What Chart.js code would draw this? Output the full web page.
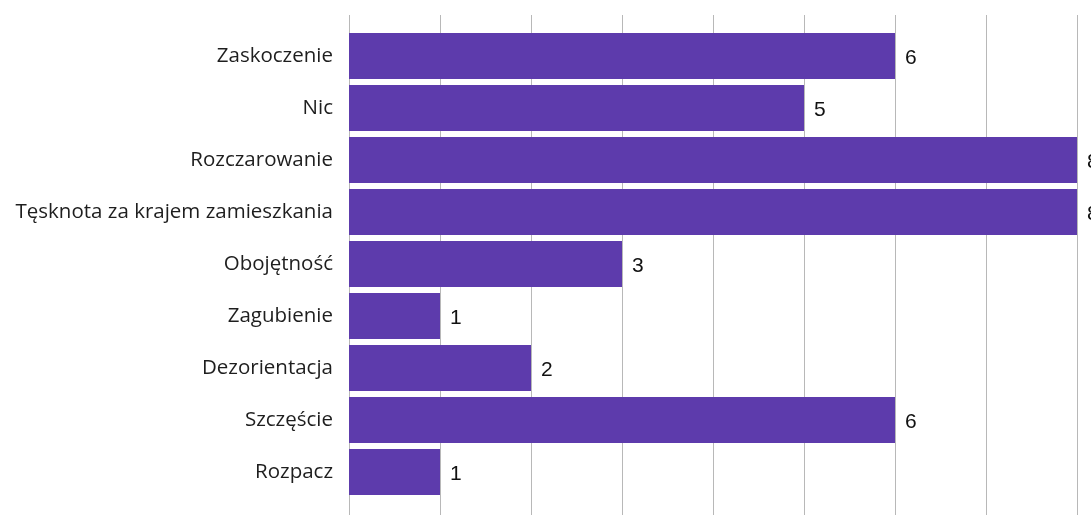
<!DOCTYPE html>
<html>
<head>
<meta charset="utf-8">
<script src="https://cdn.jsdelivr.net/npm/chart.js@4"></script>
<style>
  html, body { margin: 0; padding: 0; background: #fff; overflow: hidden; }
  #wrap { width: 1120px; height: 515px; }
</style>
</head>
<body>
<div id="wrap"><canvas id="myChart" width="1120" height="515"></canvas></div>
<script>
const categories = [
  "Zaskoczenie",
  "Nic",
  "Rozczarowanie",
  "Tęsknota za krajem zamieszkania",
  "Obojętność",
  "Zagubienie",
  "Dezorientacja",
  "Szczęście",
  "Rozpacz"
];
const counts = [6, 5, 8, 8, 3, 1, 2, 6, 1];
const xTicks = [0, 1, 2, 3, 4, 5, 6, 7, 8];

// vertical grid lines run from near the top to the bottom edge
const gridPlugin = {
  id: "gridLines",
  beforeDatasetsDraw(chart) {
    const ctx = chart.ctx;
    const x = chart.scales.x;
    ctx.save();
    ctx.strokeStyle = "#b8b8b8";
    ctx.lineWidth = 1;
    xTicks.forEach(v => {
      const px = Math.round(x.getPixelForValue(v)) + 0.5;
      ctx.beginPath();
      ctx.moveTo(px, 15);
      ctx.lineTo(px, chart.height);
      ctx.stroke();
    });
    ctx.restore();
  }
};

const valueLabels = {
  id: "valueLabels",
  afterDatasetsDraw(chart) {
    const ctx = chart.ctx;
    const meta = chart.getDatasetMeta(0);
    ctx.save();
    ctx.fillStyle = "#111";
    ctx.font = "21px 'Liberation Sans', Arial, sans-serif";
    ctx.textAlign = "left";
    ctx.textBaseline = "middle";
    meta.data.forEach((bar, i) => {
      ctx.fillText(String(counts[i]), bar.x + 10, bar.y + 2);
    });
    ctx.restore();
  }
};

new Chart(document.getElementById("myChart"), {
  type: "bar",
  data: {
    labels: categories,
    datasets: [{
      data: counts,
      backgroundColor: "#5d3bac",
      borderWidth: 0,
      barPercentage: 0.885,
      categoryPercentage: 1
    }]
  },
  options: {
    indexAxis: "y",
    responsive: false,
    animation: false,
    layout: { padding: { top: 30, bottom: 17, right: 43, left: 0 } },
    plugins: {
      legend: { display: false },
      tooltip: { enabled: false }
    },
    scales: {
      x: {
        display: false,
        min: 0,
        max: 8
      },
      y: {
        afterFit(scale) {
          scale.width = 349;
          scale.paddingTop = 0;
          scale.paddingBottom = 0;
        },
        grid: { display: false, drawTicks: false },
        border: { display: false },
        ticks: {
          color: "#1e1e1e",
          padding: 16,
          font: { family: "'Open Sans', 'Noto Sans', sans-serif", size: 20.5 }
        }
      }
    }
  },
  plugins: [gridPlugin, valueLabels]
});
</script>
</body>
</html>
